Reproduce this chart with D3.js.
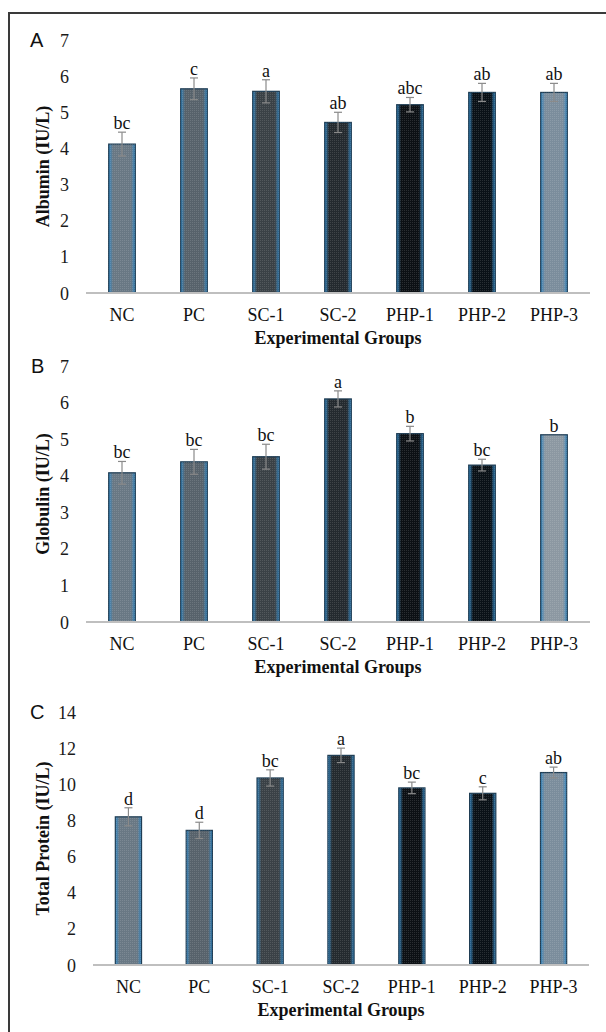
<!DOCTYPE html>
<html>
<head>
<meta charset="utf-8">
<script src="https://cdn.jsdelivr.net/npm/d3@7"></script>
<style>
  body { margin: 0; background: #fff; }
  svg text { font-family: "Liberation Serif", "Times New Roman", serif; }
</style>
</head>
<body>
<script>
// groups on the x axis
var groups = ["NC", "PC", "SC-1", "SC-2", "PHP-1", "PHP-2", "PHP-3"];

// A - albumin
var albumin = [4.12, 5.65, 5.58, 4.72, 5.21, 5.55, 5.55];
var albuminErr = [0.33, 0.30, 0.32, 0.28, 0.20, 0.25, 0.25];
var albuminLetters = ["bc", "c", "a", "ab", "abc", "ab", "ab"];
var albuminTicks = [0, 1, 2, 3, 4, 5, 6, 7];

// B - globulin
var globulin = [4.08, 4.38, 4.52, 6.10, 5.15, 4.29, 5.12];
var globulinErr = [0.31, 0.34, 0.34, 0.22, 0.20, 0.16, 0];
var globulinLetters = ["bc", "bc", "bc", "a", "b", "bc", "b"];
var globulinTicks = [0, 1, 2, 3, 4, 5, 6, 7];

// C - total protein
var totalProtein = [8.20, 7.45, 10.35, 11.60, 9.80, 9.50, 10.65];
var totalProteinErr = [0.50, 0.45, 0.45, 0.40, 0.32, 0.36, 0.30];
var totalProteinLetters = ["d", "d", "bc", "a", "bc", "c", "ab"];
var totalProteinTicks = [0, 2, 4, 6, 8, 10, 12, 14];

// bar centre colours (edges get a blue glow)
var barCentre = ["#697884", "#57626b", "#3a4146", "#242a2f", "#0c1014", "#0a1117", "#7b8d9c"];
var barCentreB = ["#697884", "#57626b", "#3a4146", "#242a2f", "#0c1014", "#0a1117", "#8c98a2"];

var w = 606, h = 1032;

var svg = d3.select("body").append("svg")
    .attr("width", w)
    .attr("height", h);

var defs = svg.append("defs");

function makeGrad(id, centre) {
    var g = defs.append("linearGradient").attr("id", id)
        .attr("x1", "0%").attr("x2", "100%").attr("y1", "0%").attr("y2", "0%");
    g.append("stop").attr("offset", "0%").attr("stop-color", "#3486c0");
    g.append("stop").attr("offset", "16%").attr("stop-color", centre);
    g.append("stop").attr("offset", "84%").attr("stop-color", centre);
    g.append("stop").attr("offset", "100%").attr("stop-color", "#3486c0");
}
barCentre.forEach(function (c, i) { makeGrad("g" + i, c); });
barCentreB.forEach(function (c, i) { makeGrad("gb" + i, c); });

// fine dot texture on top of the bars
var pat = defs.append("pattern").attr("id", "dots")
    .attr("width", 2).attr("height", 2).attr("patternUnits", "userSpaceOnUse");
pat.append("rect").attr("width", 1).attr("height", 1).attr("fill", "#ffffff").attr("opacity", 0.12);

// outer frame (open to the right and bottom)
svg.append("path")
    .attr("d", "M9," + h + " L9,13 L" + w + ",13")
    .attr("fill", "none")
    .attr("stroke", "#3a3a3a")
    .attr("stroke-width", 2);

var panels = [
    { letter: "A", title: "Albumin (IU/L)", values: albumin, err: albuminErr, letters: albuminLetters,
      ticks: albuminTicks, top: 40, bottom: 293, left: 86, right: 590, grad: "g", lx: 30 },
    { letter: "B", title: "Globulin (IU/L)", values: globulin, err: globulinErr, letters: globulinLetters,
      ticks: globulinTicks, top: 366, bottom: 622, left: 86, right: 590, grad: "gb", lx: 31 },
    { letter: "C", title: "Total Protein (IU/L)", values: totalProtein, err: totalProteinErr, letters: totalProteinLetters,
      ticks: totalProteinTicks, top: 712, bottom: 965, left: 93, right: 589, grad: "g", lx: 30 }
];

panels.forEach(function (p) {
    var x = d3.scaleBand().domain(groups).range([p.left, p.right]).paddingInner(0.63).paddingOuter(0.315);
    var y = d3.scaleLinear().domain([0, d3.max(p.ticks)]).range([p.bottom, p.top]);

    var g = svg.append("g");

    // panel letter
    g.append("text")
        .attr("x", p.lx).attr("y", p.top + 7)
        .style("font-family", "'Liberation Sans', Arial, sans-serif")
        .style("font-size", "20px")
        .attr("fill", "#111")
        .text(p.letter);

    // y axis: labels only
    var yAxis = g.append("g")
        .attr("transform", "translate(" + (p.left - 17) + ",0)")
        .call(d3.axisLeft(y).tickValues(p.ticks).tickFormat(d3.format("d")).tickSize(0).tickPadding(0));
    yAxis.select(".domain").remove();
    yAxis.selectAll("text")
        .style("font-family", "'Liberation Serif', serif")
        .style("font-size", "18px")
        .attr("fill", "#1a1a1a")
        .attr("dy", "0.34em");

    // bars
    var data = groups.map(function (k, i) {
        return { k: k, v: p.values[i], e: p.err[i], l: p.letters[i], i: i };
    });

    g.selectAll("rect.bar").data(data).enter().append("rect")
        .attr("class", "bar")
        .attr("x", function (d) { return x(d.k); })
        .attr("y", function (d) { return y(d.v); })
        .attr("width", x.bandwidth())
        .attr("height", function (d) { return y(0) - y(d.v); })
        .attr("fill", function (d) { return "url(#" + p.grad + d.i + ")"; })
        .attr("stroke", "#1f3d54")
        .attr("stroke-width", 1.2);

    g.selectAll("rect.tex").data(data).enter().append("rect")
        .attr("class", "tex")
        .attr("x", function (d) { return x(d.k); })
        .attr("y", function (d) { return y(d.v); })
        .attr("width", x.bandwidth())
        .attr("height", function (d) { return y(0) - y(d.v); })
        .attr("fill", "url(#dots)");

    // x axis line
    g.append("line")
        .attr("x1", p.left).attr("x2", p.right)
        .attr("y1", y(0)).attr("y2", y(0))
        .attr("stroke", "#bfbfbf")
        .attr("stroke-width", 2);

    // error bars
    var eb = g.selectAll("g.err").data(data.filter(function (d) { return d.e > 0; }))
        .enter().append("g").attr("class", "err")
        .attr("stroke", "#8a8a8a").attr("stroke-width", 1.2);
    eb.append("line")
        .attr("x1", function (d) { return x(d.k) + x.bandwidth() / 2; })
        .attr("x2", function (d) { return x(d.k) + x.bandwidth() / 2; })
        .attr("y1", function (d) { return y(d.v + d.e); })
        .attr("y2", function (d) { return y(d.v - d.e); });
    eb.selectAll("line.cap").data(function (d) { return [d.v + d.e, d.v - d.e].map(function (t) { return { k: d.k, t: t }; }); })
        .enter().append("line").attr("class", "cap")
        .attr("x1", function (d) { return x(d.k) + x.bandwidth() / 2 - 4; })
        .attr("x2", function (d) { return x(d.k) + x.bandwidth() / 2 + 4; })
        .attr("y1", function (d) { return y(d.t); })
        .attr("y2", function (d) { return y(d.t); });

    // significance letters
    g.selectAll("text.sig").data(data).enter().append("text")
        .attr("class", "sig")
        .attr("x", function (d) { return x(d.k) + x.bandwidth() / 2; })
        .attr("y", function (d) { return y(d.v + d.e) - 3; })
        .attr("text-anchor", "middle")
        .style("font-size", "18px")
        .attr("fill", "#111")
        .text(function (d) { return d.l; });

    // category labels
    g.selectAll("text.cat").data(groups).enter().append("text")
        .attr("class", "cat")
        .attr("x", function (d) { return x(d) + x.bandwidth() / 2; })
        .attr("y", y(0) + 28)
        .attr("text-anchor", "middle")
        .style("font-size", "18px")
        .attr("fill", "#111")
        .text(function (d) { return d; });

    // x title
    g.append("text")
        .attr("x", (p.left + p.right) / 2)
        .attr("y", y(0) + 51)
        .attr("text-anchor", "middle")
        .style("font-size", "18px")
        .style("font-weight", "bold")
        .attr("fill", "#111")
        .text("Experimental Groups");

    // y title
    g.append("text")
        .attr("transform", "translate(49," + ((p.top + p.bottom) / 2) + ") rotate(-90)")
        .attr("text-anchor", "middle")
        .style("font-size", "18px")
        .style("font-weight", "bold")
        .attr("fill", "#111")
        .text(p.title);
});
</script>
</body>
</html>
